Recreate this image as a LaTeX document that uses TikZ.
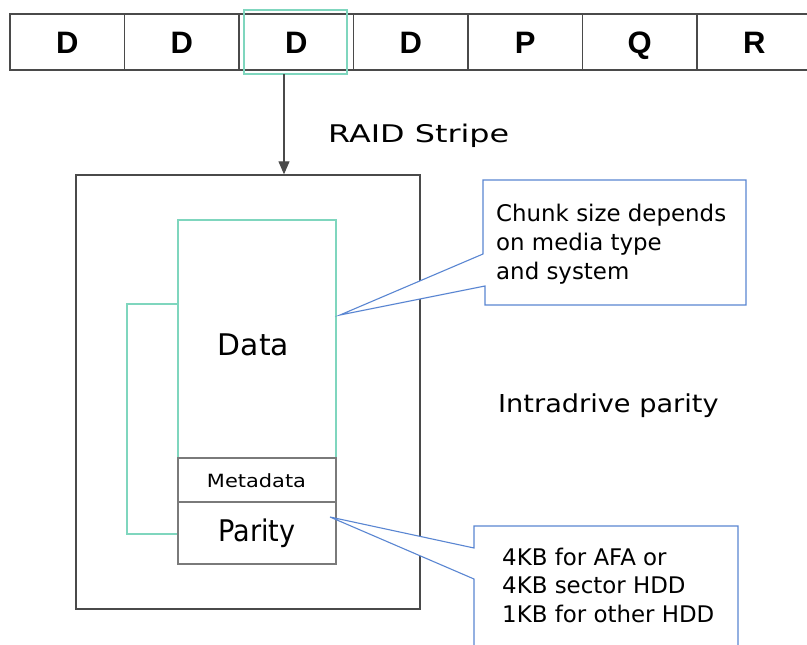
\documentclass[tikz,border=0pt]{standalone}
\usepackage{fontspec}
\usepackage{graphicx}
\setmainfont{DejaVu Sans}
\newfontfamily\cellfont{Liberation Sans}
\usetikzlibrary{arrows.meta}
\definecolor{boxgrey}{HTML}{4A4A4A}
\definecolor{lightgrey}{HTML}{7A7A7A}
\definecolor{tealc}{HTML}{7FD6BE}
\definecolor{callblue}{HTML}{5A86D2}
\newcommand{\wide}[2]{\scalebox{#1}[1]{#2}}
\tikzset{
  cell/.style={draw=boxgrey, line width=1.4pt, minimum width=114.5pt, minimum height=56pt,
    inner sep=0pt, text height=22.5pt, text depth=0pt,
    font=\cellfont\bfseries\fontsize{31}{31}\selectfont},
  tealline/.style={draw=tealc, line width=1.4pt},
  greybox/.style={draw=lightgrey, line width=1.4pt, minimum width=158pt, inner sep=0pt},
  callout/.style={draw=callblue, line width=1.1pt, line join=miter},
  calltext/.style={align=left, anchor=north west, inner sep=0pt, font=\fontsize{22.9}{28.6}\selectfont},
  label/.style={inner sep=0pt},
}
\begin{document}
\begin{tikzpicture}[x=1pt,y=-1pt]
\useasboundingbox (0,0) rectangle (807,645);
\clip (0,0) rectangle (807,645);
\fill[white] (0,0) rectangle (807,645);

% the stripe of chunks
\foreach \t [count=\i from 0] in {D,D,D,D,P,Q,R}
  \node[cell] (c\i) at ({10+114.5*(\i+0.5)},42) {\t};
\node[tealline, draw, minimum width=103pt, minimum height=64pt, inner sep=0pt] (sel) at (295.5,42) {};
\node[label, anchor=base west, font=\fontsize{24.3}{24.3}\selectfont] (stripe) at (328,142) {\wide{1.31}{RAID Stripe}};

% one drive chunk
\node[draw=boxgrey, line width=1.4pt, minimum width=344pt, minimum height=434pt, inner sep=0pt] (drive) at (248,392) {};
\coordinate (from) at (284,74);
\draw[boxgrey, line width=1.2pt, -{Triangle[length=13pt,width=11pt]}] (from) -- (from |- drive.north);

\node[tealline, draw, minimum width=158pt, minimum height=238pt, inner sep=0pt] (data) at (257,339) {};
\node[label, anchor=base, font=\fontsize{29.8}{29.8}\selectfont] (datalbl) at (253.5,355) {Data};
\node[greybox, minimum height=44pt] (meta) at (257,480) {};
\node[label, anchor=base, font=\fontsize{18.2}{18.2}\selectfont] (metalbl) at (256.5,487.3) {\wide{1.15}{Metadata}};
\node[greybox, minimum height=62pt] (parity) at (257,533) {};
\node[label, anchor=base, font=\fontsize{29.8}{29.8}\selectfont] (paritylbl) at (257,541.7) {\wide{0.91}{Parity}};
\draw[tealline] (data.west |- 0,304) -- (127,304) -- (127,534) -- (parity.west |- 0,534);

\node[label, anchor=base west, font=\fontsize{24.7}{24.7}\selectfont] (intra) at (498,412) {\wide{1.10}{Intradrive parity}};

% callouts
\coordinate (tip1) at (340,315);
\draw[callout, fill=white] (483,180) -- (746,180) -- (746,305) -- (485,305) -- (485,286) -- (tip1) -- (483,254) -- cycle;
\node[calltext] (note1) at (496,204.3) {Chunk size depends\\on media type\\and system};

\coordinate (tip2) at (330,517);
\draw[callout, fill=white] (474,526) -- (738,526) -- (738,660) -- (474,660) -- (474,579) -- (tip2) -- (474,548) -- cycle;
\node[calltext] (note2) at (502,547.6) {4KB for AFA or\\4KB sector HDD\\1KB for other HDD};
\end{tikzpicture}
\end{document}
